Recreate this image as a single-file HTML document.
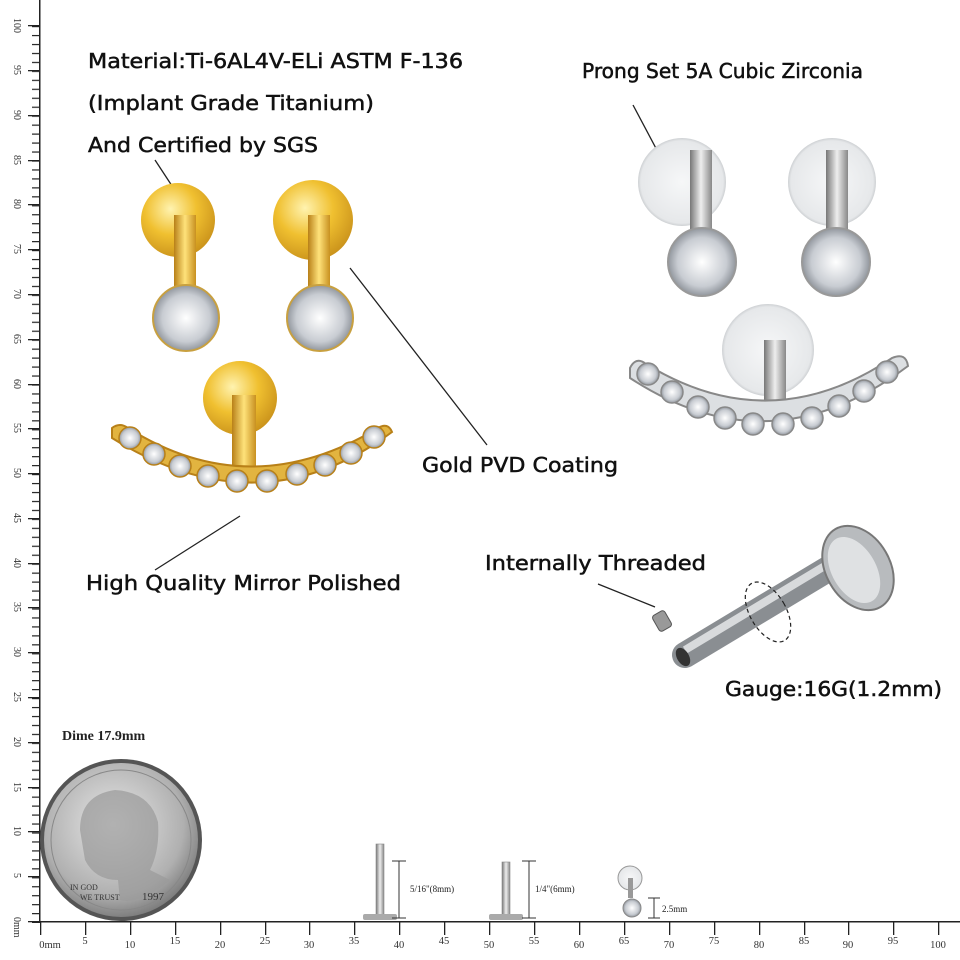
<!DOCTYPE html>
<html><head><meta charset="utf-8"><style>html,body{margin:0;padding:0;background:#fff}svg{display:block}</style></head>
<body>
<svg width="960" height="960" viewBox="0 0 960 960" xmlns="http://www.w3.org/2000/svg">
<defs>
<pattern id="vt" x="0" y="922" width="40" height="8.96" patternUnits="userSpaceOnUse">
<rect x="32" y="0" width="8" height="1.2" fill="#222"/></pattern>
<pattern id="ht" x="40" y="0" width="8.98" height="40" patternUnits="userSpaceOnUse">
<rect x="0" y="922" width="1.2" height="8" fill="#222"/></pattern>
<radialGradient id="gold" cx="0.4" cy="0.35" r="0.7"><stop offset="0" stop-color="#fff3b0"/><stop offset="0.5" stop-color="#f0c030"/><stop offset="1" stop-color="#c8901a"/></radialGradient>
<linearGradient id="gpost" x1="0" x2="1"><stop offset="0" stop-color="#b88018"/><stop offset="0.5" stop-color="#ffe27a"/><stop offset="1" stop-color="#c89020"/></linearGradient>
<linearGradient id="spost" x1="0" x2="1"><stop offset="0" stop-color="#777"/><stop offset="0.5" stop-color="#eee"/><stop offset="1" stop-color="#888"/></linearGradient>
<radialGradient id="gem" cx="0.5" cy="0.5" r="0.6"><stop offset="0" stop-color="#fff"/><stop offset="0.6" stop-color="#c8ccd2"/><stop offset="1" stop-color="#6a7078"/></radialGradient>
<radialGradient id="clear" cx="0.5" cy="0.5" r="0.55"><stop offset="0" stop-color="#f6f7f8"/><stop offset="0.85" stop-color="#e6e8ea"/><stop offset="1" stop-color="#a8acb0"/></radialGradient>
<radialGradient id="dime" cx="0.45" cy="0.4" r="0.65"><stop offset="0" stop-color="#e8e8e8"/><stop offset="0.7" stop-color="#b0b0b0"/><stop offset="1" stop-color="#707070"/></radialGradient>
</defs>
<rect x="0" y="25" width="41" height="898" fill="url(#vt)"/>
<rect x="39" y="0" width="1.5" height="923" fill="#222"/>
<rect x="40" y="921" width="920" height="1.5" fill="#222"/>
<rect x="40" y="921" width="920" height="12" fill="url(#ht)"/>
<g fill="#222">
<rect x="28" y="921" width="12" height="1.3"/><rect x="28" y="876" width="12" height="1.3"/><rect x="28" y="831" width="12" height="1.3"/><rect x="28" y="787" width="12" height="1.3"/><rect x="28" y="742" width="12" height="1.3"/><rect x="28" y="697" width="12" height="1.3"/><rect x="28" y="652" width="12" height="1.3"/><rect x="28" y="607" width="12" height="1.3"/><rect x="28" y="563" width="12" height="1.3"/><rect x="28" y="518" width="12" height="1.3"/><rect x="28" y="473" width="12" height="1.3"/><rect x="28" y="428" width="12" height="1.3"/><rect x="28" y="384" width="12" height="1.3"/><rect x="28" y="339" width="12" height="1.3"/><rect x="28" y="294" width="12" height="1.3"/><rect x="28" y="249" width="12" height="1.3"/><rect x="28" y="204" width="12" height="1.3"/><rect x="28" y="160" width="12" height="1.3"/><rect x="28" y="115" width="12" height="1.3"/><rect x="28" y="70" width="12" height="1.3"/><rect x="28" y="25" width="12" height="1.3"/>
</g>
<g font-family="Liberation Serif,serif" font-size="10" fill="#333">
<text transform="translate(14,917) rotate(90)">0mm</text>
<text transform="translate(14,873) rotate(90)">5</text>
<text transform="translate(14,826) rotate(90)">10</text>
<text transform="translate(14,782) rotate(90)">15</text>
<text transform="translate(14,737) rotate(90)">20</text>
<text transform="translate(14,692) rotate(90)">25</text>
<text transform="translate(14,647) rotate(90)">30</text>
<text transform="translate(14,602) rotate(90)">35</text>
<text transform="translate(14,558) rotate(90)">40</text>
<text transform="translate(14,513) rotate(90)">45</text>
<text transform="translate(14,468) rotate(90)">50</text>
<text transform="translate(14,423) rotate(90)">55</text>
<text transform="translate(14,379) rotate(90)">60</text>
<text transform="translate(14,334) rotate(90)">65</text>
<text transform="translate(14,289) rotate(90)">70</text>
<text transform="translate(14,244) rotate(90)">75</text>
<text transform="translate(14,199) rotate(90)">80</text>
<text transform="translate(14,155) rotate(90)">85</text>
<text transform="translate(14,110) rotate(90)">90</text>
<text transform="translate(14,65) rotate(90)">95</text>
<text transform="translate(14,18) rotate(90)">100</text>
</g>
<g fill="#222">
<rect x="40" y="921" width="1.3" height="14"/><rect x="85" y="921" width="1.3" height="14"/><rect x="130" y="921" width="1.3" height="14"/><rect x="175" y="921" width="1.3" height="14"/><rect x="220" y="921" width="1.3" height="14"/><rect x="265" y="921" width="1.3" height="14"/><rect x="309" y="921" width="1.3" height="14"/><rect x="354" y="921" width="1.3" height="14"/><rect x="399" y="921" width="1.3" height="14"/><rect x="444" y="921" width="1.3" height="14"/><rect x="489" y="921" width="1.3" height="14"/><rect x="534" y="921" width="1.3" height="14"/><rect x="579" y="921" width="1.3" height="14"/><rect x="624" y="921" width="1.3" height="14"/><rect x="669" y="921" width="1.3" height="14"/><rect x="714" y="921" width="1.3" height="14"/><rect x="759" y="921" width="1.3" height="14"/><rect x="804" y="921" width="1.3" height="14"/><rect x="848" y="921" width="1.3" height="14"/><rect x="893" y="921" width="1.3" height="14"/><rect x="938" y="921" width="1.3" height="14"/>
</g>
<g font-family="Liberation Serif,serif" font-size="10.5" fill="#333" text-anchor="middle">
<text x="50" y="948">0mm</text><text x="85" y="944">5</text><text x="130" y="948">10</text><text x="175" y="944">15</text><text x="220" y="948">20</text><text x="265" y="944">25</text><text x="309" y="948">30</text><text x="354" y="944">35</text><text x="399" y="948">40</text><text x="444" y="944">45</text><text x="489" y="948">50</text><text x="534" y="944">55</text><text x="579" y="948">60</text><text x="624" y="944">65</text><text x="669" y="948">70</text><text x="714" y="944">75</text><text x="759" y="948">80</text><text x="804" y="944">85</text><text x="848" y="948">90</text><text x="893" y="944">95</text><text x="938" y="948">100</text>
</g>

<g font-family="DejaVu Sans,sans-serif" font-size="20" fill="#111" stroke="#111" stroke-width="0.5">
<text x="88" y="68" textLength="375" lengthAdjust="spacingAndGlyphs">Material:Ti-6AL4V-ELi ASTM F-136</text>
<text x="88" y="110" textLength="286" lengthAdjust="spacingAndGlyphs">(Implant Grade Titanium)</text>
<text x="88" y="152" textLength="230" lengthAdjust="spacingAndGlyphs">And Certified by SGS</text>
<text x="582" y="78" textLength="281" lengthAdjust="spacingAndGlyphs">Prong Set 5A Cubic Zirconia</text>
<text x="422" y="472" textLength="196" lengthAdjust="spacingAndGlyphs">Gold PVD Coating</text>
<text x="86" y="590" textLength="315" lengthAdjust="spacingAndGlyphs">High Quality Mirror Polished</text>
<text x="485" y="570" textLength="221" lengthAdjust="spacingAndGlyphs">Internally Threaded</text>
<text x="725" y="696" textLength="217" lengthAdjust="spacingAndGlyphs">Gauge:16G(1.2mm)</text>
</g>
<text x="62" y="740" font-family="Liberation Serif,serif" font-weight="bold" font-size="14" fill="#222">Dime 17.9mm</text>

<g stroke="#222" stroke-width="1.3" fill="none">
<line x1="176" y1="192" x2="155" y2="160"/>
<line x1="350" y1="268" x2="487" y2="445"/>
<line x1="633" y1="105" x2="702" y2="235"/>
<line x1="240" y1="516" x2="155" y2="570"/>
<line x1="598" y1="584" x2="655" y2="607"/>
</g>

<g>
<circle cx="178" cy="220" r="37" fill="url(#gold)"/>
<rect x="174" y="215" width="22" height="80" fill="url(#gpost)"/>
<circle cx="186" cy="318" r="33" fill="url(#gem)" stroke="#c8a040" stroke-width="2"/>
<circle cx="313" cy="220" r="40" fill="url(#gold)"/>
<rect x="308" y="215" width="22" height="80" fill="url(#gpost)"/>
<circle cx="320" cy="318" r="33" fill="url(#gem)" stroke="#c8a040" stroke-width="2"/>
<circle cx="240" cy="398" r="37" fill="url(#gold)"/>
<rect x="232" y="395" width="24" height="80" fill="url(#gpost)"/>
<path d="M112 428 Q120 422 128 428 Q250 505 378 428 Q388 422 392 432 Q260 530 112 438 Z" fill="#e2b440" stroke="#b88018" stroke-width="2"/>
<g fill="url(#gem)" stroke="#b88018" stroke-width="1.5">
<circle cx="130" cy="438" r="11"/><circle cx="154" cy="454" r="11"/><circle cx="180" cy="466" r="11"/><circle cx="208" cy="476" r="11"/><circle cx="237" cy="481" r="11"/><circle cx="267" cy="481" r="11"/><circle cx="297" cy="474" r="11"/><circle cx="325" cy="465" r="11"/><circle cx="351" cy="453" r="11"/><circle cx="374" cy="437" r="11"/>
</g>
</g>

<g>
<circle cx="682" cy="182" r="44" fill="url(#clear)"/>
<rect x="690" y="150" width="22" height="85" fill="url(#spost)"/>
<circle cx="702" cy="262" r="34" fill="url(#gem)" stroke="#999" stroke-width="2"/>
<circle cx="832" cy="182" r="44" fill="url(#clear)"/>
<rect x="826" y="150" width="22" height="85" fill="url(#spost)"/>
<circle cx="836" cy="262" r="34" fill="url(#gem)" stroke="#999" stroke-width="2"/>
<circle cx="768" cy="350" r="46" fill="url(#clear)"/>
<rect x="764" y="340" width="22" height="80" fill="url(#spost)"/>
<path d="M630 368 Q636 356 646 364 Q770 440 892 358 Q906 352 908 366 Q770 470 630 378 Z" fill="#dcdfe2" stroke="#888" stroke-width="2"/>
<g fill="url(#gem)" stroke="#888" stroke-width="1.5">
<circle cx="648" cy="374" r="11"/><circle cx="672" cy="392" r="11"/><circle cx="698" cy="407" r="11"/><circle cx="725" cy="418" r="11"/><circle cx="753" cy="424" r="11"/><circle cx="783" cy="424" r="11"/><circle cx="812" cy="418" r="11"/><circle cx="839" cy="406" r="11"/><circle cx="864" cy="391" r="11"/><circle cx="887" cy="372" r="11"/>
</g>
</g>

<g>
<line x1="685" y1="655" x2="838" y2="563" stroke="#8a8e92" stroke-width="26" stroke-linecap="round"/>
<line x1="685" y1="650" x2="838" y2="558" stroke="#d8dadc" stroke-width="8"/>
<ellipse cx="858" cy="568" rx="32" ry="45" fill="#b8bbbe" stroke="#777" stroke-width="2" transform="rotate(-30 858 568)"/>
<ellipse cx="854" cy="570" rx="22" ry="36" fill="#dfe1e3" transform="rotate(-30 854 570)"/>
<ellipse cx="768" cy="612" rx="18" ry="33" fill="none" stroke="#222" stroke-width="1.2" stroke-dasharray="4 3" transform="rotate(-30 768 612)"/>
<ellipse cx="683" cy="657" rx="6" ry="10" fill="#333" transform="rotate(-30 683 657)"/>
<rect x="655" y="612" width="14" height="18" rx="3" fill="#999" stroke="#555" transform="rotate(-30 662 621)"/>
</g>

<circle cx="121" cy="840" r="81" fill="#555"/>
<circle cx="121" cy="840" r="77" fill="url(#dime)"/>
<circle cx="121" cy="840" r="70" fill="none" stroke="#888" stroke-width="1"/>
<path d="M80 830 Q80 795 115 790 Q150 792 158 822 Q160 850 150 870 L170 880 Q140 905 120 900 L118 880 Q95 880 85 860 Z" fill="#9a9a9a" opacity="0.7"/>
<text x="70" y="890" font-family="Liberation Serif,serif" font-size="8" fill="#333">IN GOD</text>
<text x="80" y="900" font-family="Liberation Serif,serif" font-size="8" fill="#333">WE TRUST</text>
<text x="142" y="900" font-family="Liberation Serif,serif" font-size="11" fill="#333">1997</text>

<g>
<rect x="376" y="844" width="8" height="72" fill="url(#spost)" stroke="#888" stroke-width="0.6"/>
<rect x="363" y="914" width="34" height="6" rx="2" fill="#aaa"/>
<rect x="502" y="862" width="8" height="54" fill="url(#spost)" stroke="#888" stroke-width="0.6"/>
<rect x="489" y="914" width="34" height="6" rx="2" fill="#aaa"/>
<circle cx="630" cy="878" r="12" fill="url(#clear)" stroke="#999"/>
<rect x="628" y="878" width="5" height="20" fill="#999"/>
<circle cx="632" cy="908" r="9" fill="url(#gem)" stroke="#888"/>
<g stroke="#333" stroke-width="1" fill="none">
<path d="M392 861 H406 M399 861 V918 M392 918 H406"/>
<path d="M522 861 H536 M529 861 V918 M522 918 H536"/>
<path d="M648 898 H660 M654 898 V918 M648 918 H660"/>
</g>
<g font-family="Liberation Serif,serif" font-size="9" fill="#222">
<text x="410" y="892">5/16"(8mm)</text>
<text x="535" y="892">1/4"(6mm)</text>
<text x="662" y="912">2.5mm</text>
</g>
</g>
</svg>
</body></html>
